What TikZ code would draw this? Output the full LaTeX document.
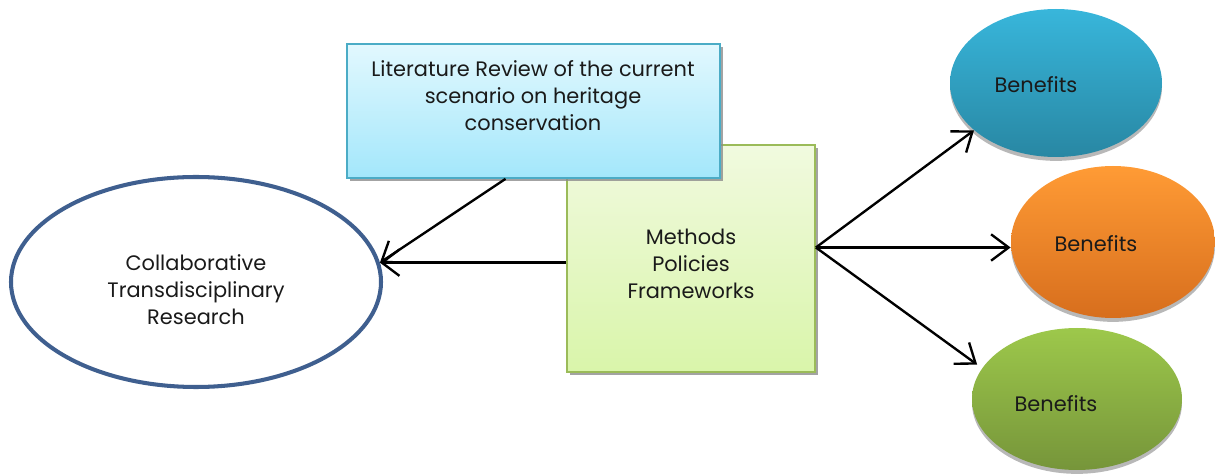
\documentclass[tikz,border=0pt]{standalone}
\usepackage{fontspec}
\setmainfont{Poppins}
\usetikzlibrary{arrows.meta,shapes.geometric,shadows}
\definecolor{litTop}{HTML}{E2F8FE}
\definecolor{litBot}{HTML}{A3E7FB}
\definecolor{litLine}{HTML}{4BACC6}
\definecolor{metTop}{HTML}{F1FADF}
\definecolor{metBot}{HTML}{D9F5AA}
\definecolor{metLine}{HTML}{9BBB59}
\definecolor{crtLine}{HTML}{3F5F8F}
\definecolor{bluTop}{HTML}{38B6DB}
\definecolor{bluBot}{HTML}{2887A3}
\definecolor{orgTop}{HTML}{FF9B35}
\definecolor{orgBot}{HTML}{D76E1D}
\definecolor{grnTop}{HTML}{9DC84B}
\definecolor{grnBot}{HTML}{76953A}
\definecolor{ink}{HTML}{1A1A1A}
\tikzset{
  x=0.02cm, y=-0.02cm,
  every node/.style={text=ink, font=\fontsize{11.9}{15.4}\selectfont, align=center},
  boxshadow/.style={drop shadow={shadow xshift=1.8pt, shadow yshift=-1.8pt, fill=black!45, opacity=0.8}},
  ballshadow/.style={drop shadow={shadow xshift=0pt, shadow yshift=-2.2pt, fill=black!35, opacity=0.8}},
  litbox/.style={rectangle, draw=litLine, line width=1pt, top color=litTop, bottom color=litBot,
    minimum width=373*0.02cm, minimum height=134*0.02cm, inner sep=0pt, boxshadow},
  metbox/.style={rectangle, draw=metLine, line width=1pt, top color=metTop, bottom color=metBot,
    minimum width=248*0.02cm, minimum height=227*0.02cm, inner sep=0pt, boxshadow},
  ball/.style={ellipse, inner sep=0pt, ballshadow},
  link/.style={-{Straight Barb[length=10pt,width=15pt,line width=1.35pt]}, line width=1.35pt, black},
}
\begin{document}
\begin{tikzpicture}
\useasboundingbox (0,0) rectangle (1215,476);

% central boxes: methods first, literature review laid over it
\node[metbox] (met) at (691,258.5) {};
\node at (691,264) {Methods\\Policies\\Frameworks};
\node[litbox] (lit) at (533.5,111) {};
\node at (533,96) {Literature Review of the current\\scenario on heritage\\conservation};

% research goal
\node[ellipse, draw=crtLine, line width=2.3pt, fill=white, minimum width=370*0.02cm,
      minimum height=210*0.02cm, inner sep=0pt] (crt) at (196,282) {};
\node at (196,290) {Collaborative\\Transdisciplinary\\Research};

% outcome ellipses
\node[ball, top color=bluTop, bottom color=bluBot, minimum width=212*0.02cm, minimum height=148*0.02cm] (b1) at (1056,83) {};
\node at (1036,85) {Benefits};
\node[ball, top color=orgTop, bottom color=orgBot, minimum width=204*0.02cm, minimum height=152*0.02cm] (b2) at (1113,242) {};
\node at (1096,244) {Benefits};
\node[ball, top color=grnTop, bottom color=grnBot, minimum width=210*0.02cm, minimum height=142*0.02cm] (b3) at (1077,399) {};
\node at (1056,404) {Benefits};

% connectors
\draw[link] ([xshift=-28*0.02cm]lit.south) -- (crt.6);
\draw[link] (met.west |- crt.6) -- (crt.6);
\coordinate (hub) at ([yshift=11*0.02cm]met.east);
\draw[link] (hub) -- (b1.210);
\draw[link] (hub) -- (b2.west |- hub);
\draw[link, shorten >=6*0.02cm] (hub) -- (b3.162);
\end{tikzpicture}
\end{document}
